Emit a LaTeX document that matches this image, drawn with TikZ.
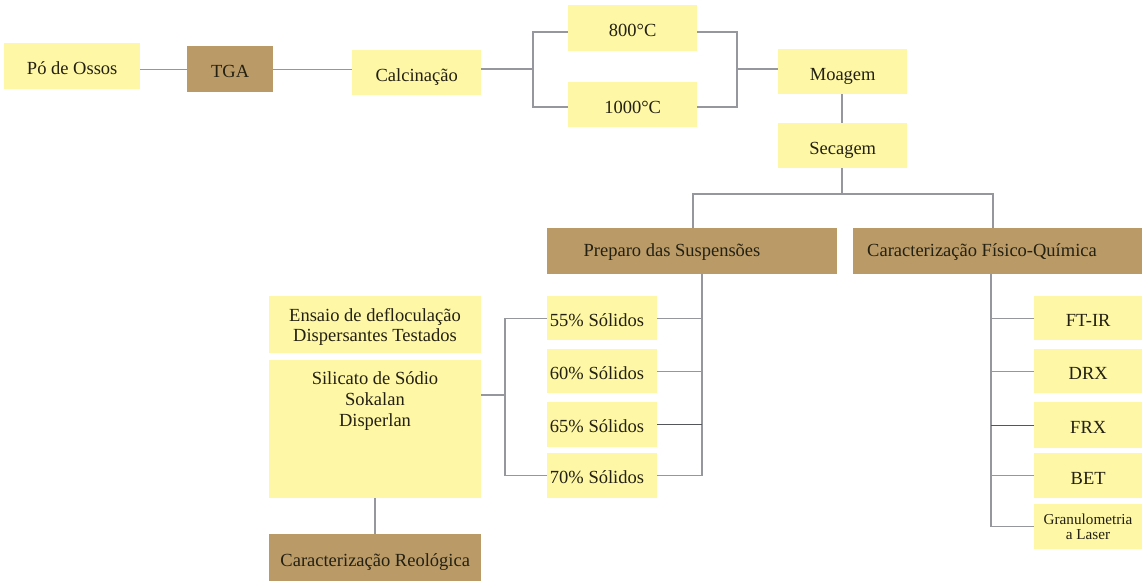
\documentclass[tikz,border=0pt]{standalone}
\usepackage{fontspec}
\setmainfont{Liberation Serif}
\begin{document}
\definecolor{paleyellow}{RGB}{253,247,166}
\definecolor{khaki}{RGB}{186,155,103}
\definecolor{inkdark}{RGB}{36,32,18}
\definecolor{linkgray}{RGB}{150,150,158}
\definecolor{linkdark}{RGB}{85,85,92}
\begin{tikzpicture}[x=1pt,y=-1pt,
  basebox/.style={rectangle, draw=none, inner sep=0pt, anchor=north west,
    text=inkdark, font=\fontsize{18.5}{21}\selectfont, align=center,
    text height=17pt, text depth=0pt},
  ybox/.style={basebox, fill=paleyellow},
  bbox/.style={basebox, fill=khaki},
  lbl/.style={inner sep=0pt, text=inkdark, font=\fontsize{18.5}{21}\selectfont, align=center},
  link/.style={draw=linkgray, line width=1.3pt},
  linkd/.style={draw=linkdark, line width=1.3pt}]
\useasboundingbox[fill=white] (0,0) rectangle (1142,581);

% top row
\node[ybox, minimum width=136, minimum height=46] (po) at (4,43) {Pó de Ossos};
\node[bbox, minimum width=86, minimum height=46] (tga) at (187,46) {TGA};
\node[ybox, minimum width=129, minimum height=45] (calc) at (352,50) {Calcinação};
\node[ybox, minimum width=129, minimum height=46] (t800) at (568,5) {800°C};
\node[ybox, minimum width=129, minimum height=45] (t1000) at (568,82) {1000°C};
\node[ybox, minimum width=129, minimum height=45] (moag) at (778,49) {Moagem};
\node[ybox, minimum width=129, minimum height=45] (sec) at (778,123) {Secagem};

% main branches
\node[bbox, minimum width=290, minimum height=46] (prep) at (547,228) {};
\node[lbl] (prept) at (672,252) {Preparo das Suspensões};
\node[bbox, minimum width=289, minimum height=46] (cara) at (853,228) {};
\node[lbl] (carat) at (982,252) {Caracterização Físico-Química};

% suspensions
\node[ybox, minimum width=110, minimum height=44] (s55) at (547,296) {};
\node[lbl] (s55t) at (597,320) {55\% Sólidos};
\node[ybox, minimum width=110, minimum height=44] (s60) at (547,349) {};
\node[lbl] (s60t) at (597,373) {60\% Sólidos};
\node[ybox, minimum width=110, minimum height=45] (s65) at (547,402) {};
\node[lbl] (s65t) at (597,426) {65\% Sólidos};
\node[ybox, minimum width=110, minimum height=45] (s70) at (547,453) {};
\node[lbl] (s70t) at (597,477) {70\% Sólidos};

% deflocculation test
\node[ybox, minimum width=212, minimum height=57] (ens) at (269,296) {};
\node[lbl] (enst) at (375,327) {Ensaio de defloculação\\[-1pt]Dispersantes Testados};
\node[ybox, minimum width=212, minimum height=138] (sil) at (269,360) {};
\node[lbl] (silt) at (375,401) {Silicato de Sódio\\Sokalan\\Disperlan};
\node[bbox, minimum width=212, minimum height=47] (reo) at (269,534) {Caracterização Reológica};

% physico-chemical tests
\node[ybox, minimum width=108, minimum height=44] (ftir) at (1034,296) {FT-IR};
\node[ybox, minimum width=108, minimum height=44] (drx) at (1034,349) {DRX};
\node[ybox, minimum width=108, minimum height=46] (frx) at (1034,402) {FRX};
\node[ybox, minimum width=108, minimum height=45] (bet) at (1034,453) {BET};
\node[ybox, minimum width=108, minimum height=45] (gran) at (1034,504) {};
\node[inner sep=0pt, text=inkdark, font=\fontsize{15.2}{15}\selectfont, align=center] (grant) at (1088,527) {Granulometria\\a Laser};

% junction points
\coordinate (f1) at (533,69);
\coordinate (f1a) at (533,32);
\coordinate (f1b) at (533,107);
\coordinate (f2) at (737,69);
\coordinate (f2a) at (737,32);
\coordinate (f2b) at (737,107);
\coordinate (b0) at (842,194);
\coordinate (b1) at (693,194);
\coordinate (b2) at (993,194);
\coordinate (pv) at (702,274);
\coordinate (lb) at (505,395);
\coordinate (cv) at (991,274);

% connectors: top row
\draw[link] (tga.west -| po.east) -- (tga.west);
\draw[link] (tga.east) -- (tga.east -| calc.west);
\draw[link] (calc.east |- f1) -- (f1);
\draw[link] (f1a -| t800.west) -- (f1a) -- (f1b) -- (f1b -| t1000.west);
\draw[link] (f2a -| t800.east) -- (f2a) -- (f2b) -- (f2b -| t1000.east);
\draw[link] (f2) -- (f2 -| moag.west);
\draw[link] (moag.south -| b0) -- (sec.north -| b0);
\draw[link] (sec.south -| b0) -- (b0);
\draw[link] (prep.north -| b1) -- (b1) -- (b2) -- (cara.north -| b2);

% connectors: suspensions
\draw[link] (prep.south -| pv) -- (s70.east -| pv);
\draw[link] (s55.east) -- (s55.east -| pv);
\draw[link] (s60.east) -- (s60.east -| pv);
\draw[linkd] (s65.east) -- (s65.east -| pv);
\draw[link] (s70.east) -- (s70.east -| pv);
\draw[link] (s55.west) -| (lb);
\draw[link] (s70.west) -| (lb);
\draw[link] (sil.east |- lb) -- (lb);
\draw[link] (sil.south -| 375,0) -- (reo.north -| 375,0);

% connectors: physico-chemical tests
\draw[link] (cara.south -| cv) -- (gran.west -| cv);
\draw[link] (ftir.west -| cv) -- (ftir.west);
\draw[link] (drx.west -| cv) -- (drx.west);
\draw[linkd] (frx.west -| cv) -- (frx.west);
\draw[link] (bet.west -| cv) -- (bet.west);
\draw[link] (gran.west -| cv) -- (gran.west);
\end{tikzpicture}
\end{document}
